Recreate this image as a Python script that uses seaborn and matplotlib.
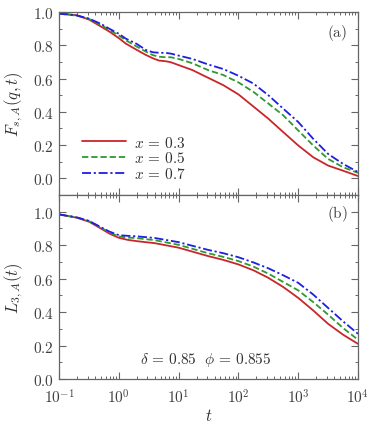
import numpy as np
import pandas as pd
import matplotlib
matplotlib.use("Agg")
import matplotlib.pyplot as plt
import seaborn as sns
from matplotlib.ticker import FixedLocator, FuncFormatter, LogLocator, MultipleLocator

sns.set_theme(style="ticks")
plt.rcParams["font.family"] = ["DejaVu Serif"]
plt.rcParams["mathtext.fontset"] = "cm"

# ---- data ----
t_a = [0.1, 0.2, 0.32, 0.5, 0.69, 1, 1.31, 2, 2.83, 3.7, 4.7, 6.1, 7.4, 10, 17, 31,
       56, 100, 178, 316, 562, 1000, 1780, 3160, 5620, 10000]
Fs_03 = [0.994, 0.98, 0.954, 0.913, 0.883, 0.843, 0.81, 0.772, 0.742, 0.722, 0.708, 0.704, 0.698,
         0.681, 0.651, 0.605, 0.56, 0.505, 0.432, 0.359, 0.278, 0.198, 0.127, 0.077, 0.046, 0.014]
Fs_05 = [0.99, 0.978, 0.958, 0.923, 0.893, 0.859, 0.83, 0.792, 0.762, 0.741, 0.731, 0.728, 0.728,
         0.718, 0.692, 0.651, 0.621, 0.577, 0.52, 0.45, 0.379, 0.288, 0.198, 0.117, 0.067, 0.033]
Fs_07 = [0.99, 0.979, 0.96, 0.929, 0.9, 0.869, 0.84, 0.808, 0.772, 0.758, 0.755, 0.754, 0.75,
         0.738, 0.718, 0.685, 0.657, 0.617, 0.57, 0.50, 0.419, 0.339, 0.238, 0.147, 0.087, 0.038]

t_b = [0.1, 0.2, 0.32, 0.5, 0.69, 1, 1.4, 2, 4, 10, 31, 56, 100, 178, 316, 562, 1000,
       1780, 3160, 5620, 10000]
L3_03 = [0.984, 0.964, 0.94, 0.90, 0.87, 0.844, 0.832, 0.824, 0.812, 0.785, 0.735, 0.712, 0.685,
         0.65, 0.605, 0.55, 0.485, 0.41, 0.33, 0.265, 0.21]
L3_05 = [0.984, 0.965, 0.943, 0.905, 0.877, 0.852, 0.846, 0.842, 0.83, 0.802, 0.752, 0.73, 0.705,
         0.672, 0.63, 0.58, 0.53, 0.46, 0.385, 0.305, 0.235]
L3_07 = [0.984, 0.966, 0.945, 0.908, 0.882, 0.86, 0.856, 0.853, 0.843, 0.818, 0.772, 0.752, 0.728,
         0.697, 0.662, 0.62, 0.575, 0.505, 0.425, 0.345, 0.27]

labels = [r"$x\, =\, 0.3$", r"$x\, =\, 0.5$", r"$x\, =\, 0.7$"]
x_ticks = [0.1, 1, 10, 100, 1000, 10000]
x_ticklabels = [r"$10^{-1}$", r"$10^{0}$", r"$10^{1}$", r"$10^{2}$", r"$10^{3}$", r"$10^{4}$"]

colors = ["#c8262a", "#2e9a2e", "#1f1fe0"]
styles = ["-", (0, (3.5, 1.6)), (0, (5, 1.5, 1.2, 1.5))]

fig = plt.figure(figsize=(3.74, 4.27), dpi=100)
L, R = 59 / 374, 358 / 374
top_y, mid_y, bot_y = 1 - 13 / 427, 1 - 196 / 427, 1 - 380 / 427
ax1 = fig.add_axes([L, mid_y, R - L, top_y - mid_y])
ax2 = fig.add_axes([L, bot_y, R - L, mid_y - bot_y], sharex=ax1)

for ys, lab, c, ls in zip([Fs_03, Fs_05, Fs_07], labels, colors, styles):
    df = pd.DataFrame({"t": t_a, "y": ys})
    sns.lineplot(data=df, x="t", y="y", ax=ax1, color=c, linestyle=ls, lw=1.3, label=lab)
for ys, c, ls in zip([L3_03, L3_05, L3_07], colors, styles):
    df = pd.DataFrame({"t": t_b, "y": ys})
    sns.lineplot(data=df, x="t", y="y", ax=ax2, color=c, linestyle=ls, lw=1.3)

spc = "0.4"
for ax in (ax1, ax2):
    ax.set_xscale("log")
    ax.set_xlim(0.1, 1e4)
    ax.xaxis.set_major_locator(FixedLocator(x_ticks))
    ax.xaxis.set_minor_locator(LogLocator(base=10, subs=np.arange(2, 10)))
    ax.yaxis.set_major_locator(MultipleLocator(0.2))
    ax.yaxis.set_minor_locator(MultipleLocator(0.1))
    ax.yaxis.set_major_formatter(FuncFormatter(lambda v, p: r"$%.1f$" % v))
    ax.tick_params(which="both", direction="in", top=True, right=True, colors=spc,
                   labelcolor="0.25", labelsize=11)
    ax.tick_params(which="major", length=5, width=0.8)
    ax.tick_params(which="minor", length=2.5, width=0.7)
    for s in ax.spines.values():
        s.set_color(spc)
        s.set_linewidth(0.9)
    ax.set_xlabel("")

ax1.set_ylim(-0.1, 1.0)
ax2.set_ylim(0.0, 1.1)
ax1.tick_params(labelbottom=False)
ax2.set_xticklabels(x_ticklabels)
ax2.tick_params(axis="x", pad=6)

ax1.set_ylabel(r"$F_{s,A}(q,t)$", fontsize=12, color="0.2", labelpad=6)
ax2.set_ylabel(r"$L_{3,A}(t)$", fontsize=12, color="0.2", labelpad=6)
ax2.set_xlabel(r"$t$", fontsize=12, color="0.2", labelpad=1)

ax1.text(0.93, 0.89, r"$\mathrm{(a)}$", transform=ax1.transAxes, fontsize=11, color="0.25", ha="center", va="center")
ax2.text(0.93, 0.9, r"$\mathrm{(b)}$", transform=ax2.transAxes, fontsize=11, color="0.25", ha="center", va="center")
ax2.text(0.49, 0.11, r"$\delta\, =\, 0.85\ \ \phi\, =\, 0.855$", transform=ax2.transAxes, fontsize=11,
         color="0.2", ha="center", va="center")

leg = ax1.legend(loc="lower left", bbox_to_anchor=(0.03, 0.0), frameon=False, fontsize=11,
                 handlelength=2.9, handletextpad=0.5, labelspacing=0.05, labelcolor="0.2")

fig.savefig("out.png", dpi=100)
